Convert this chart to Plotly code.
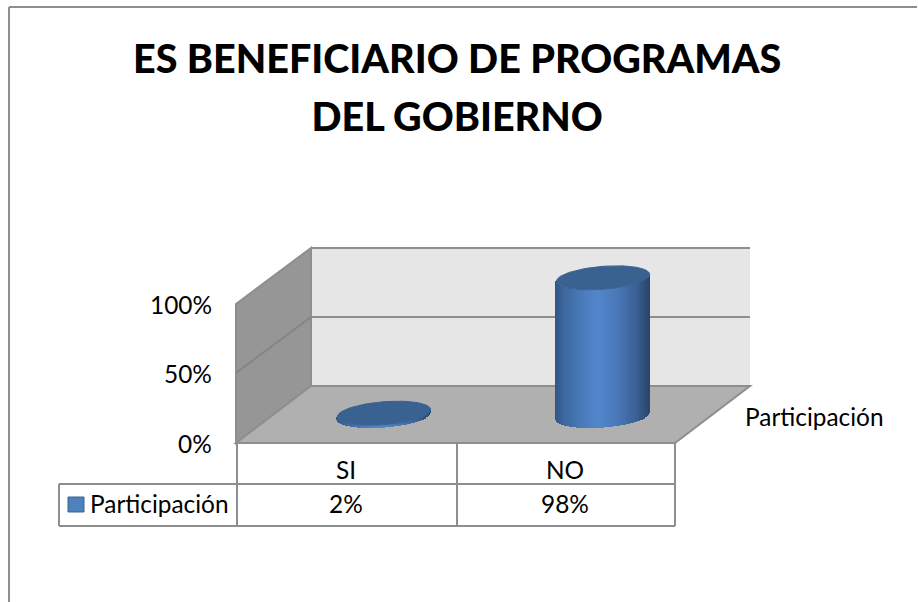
import numpy as np
import plotly.graph_objects as go

categories = ["SI", "NO"]
values = [0.02, 0.98]
series_name = "Participación"
tick_labels = ["0%", "50%", "100%"]
title_lines = ["ES BENEFICIARIO DE PROGRAMAS", "DEL GOBIERNO"]

W, H = 918, 602
FONT = "Lato"
LINE = "#8e8e8e"

# scales: category index -> px, value -> px
PX_PER_CAT = 219.0
X0_PX = 384.0
PX_PER_UNIT = 141.0
Y0_PX = 416.0
xr = [(0 - X0_PX) / PX_PER_CAT, (W - X0_PX) / PX_PER_CAT]
yr = [(Y0_PX - H) / PX_PER_UNIT, Y0_PX / PX_PER_UNIT]

A = 46.6 / PX_PER_CAT          # cylinder half width (category units)
B = 11.5 / PX_PER_UNIT         # ellipse half height (value units)
SHEAR = 3.5 / PX_PER_UNIT      # rise of the ellipse toward the right


def shade(u):
    stops = [0.0, 0.1, 0.25, 0.45, 0.7, 0.88, 1.0]
    r = [50, 62, 72, 82, 72, 58, 42]
    g = [86, 105, 120, 135, 118, 95, 70]
    b = [135, 160, 184, 205, 180, 148, 108]
    return "rgb(%d,%d,%d)" % (np.interp(u, stops, r), np.interp(u, stops, g), np.interp(u, stops, b))


def px(x, y):
    return x / W, 1 - y / H


def poly(points, fill, line_width=2):
    path = "M " + " L ".join("%.5f,%.5f" % px(*p) for p in points) + " Z"
    return dict(type="path", xref="paper", yref="paper", path=path, fillcolor=fill,
                line=dict(color=LINE, width=line_width), layer="below")


def seg(x0, y0, x1, y1, width=2, color=LINE):
    a, b = px(x0, y0), px(x1, y1)
    return dict(type="line", xref="paper", yref="paper", x0=a[0], y0=a[1], x1=b[0], y1=b[1],
                line=dict(color=color, width=width), layer="below")


fig = go.Figure()

n_strips = 95
for i, (cat, val) in enumerate(zip(categories, values)):
    t = np.linspace(-1, 1, n_strips)
    xs = i + t * A
    lower = t * SHEAR - B * np.sqrt(1 - t ** 2)
    fig.add_trace(go.Bar(
        x=xs, y=[val] * n_strips, base=lower, width=1.7 / PX_PER_CAT,
        marker=dict(color=[shade((v + 1) / 2) for v in t], line=dict(width=0)),
        name=series_name, showlegend=False, hoverinfo="skip",
    ))
    th = np.linspace(0, 2 * np.pi, 121)
    fig.add_trace(go.Scatter(
        x=i + A * np.cos(th), y=val + SHEAR * np.cos(th) + B * np.sin(th),
        mode="lines", fill="toself", fillcolor="#3a6291",
        line=dict(color="#3a6291", width=1), showlegend=False, hoverinfo="skip",
    ))

shapes = [
    seg(9, 7, 917, 7), seg(9, 7, 9, 602),
    poly([(311, 248), (750, 248), (750, 386), (311, 386)], "#e6e6e6", 0),
    seg(311, 248, 750, 248), seg(311, 317, 750, 317),
    poly([(236, 304), (311, 248), (311, 386), (236, 443)], "#969696"),
    poly([(236, 443), (311, 386), (750, 386), (675, 443)], "#b0b0b0"),
    seg(236, 373, 311, 317, color="#858585"),
    seg(237, 443, 237, 526), seg(457, 443, 457, 526), seg(675, 443, 675, 526),
    seg(59, 484, 675, 484), seg(59, 526, 675, 526), seg(59, 484, 59, 526),
    dict(type="rect", xref="paper", yref="paper",
         x0=68 / W, x1=84 / W, y0=1 - 512 / H, y1=1 - 497 / H,
         fillcolor="#4f81bd", line=dict(color="#3a6291", width=1), layer="above"),
]


def label(text, x, y, size=24.4, xanchor="center"):
    return dict(text=text, x=x / W, y=1 - y / H, xref="paper", yref="paper", showarrow=False,
                xanchor=xanchor, yanchor="middle", font=dict(family=FONT, size=size, color="#000000"))


annotations = [
    label(tick_labels[2], 214, 304.5, xanchor="right"),
    label(tick_labels[1], 214, 373.5, xanchor="right"),
    label(tick_labels[0], 214, 444, xanchor="right"),
    label(series_name, 743, 416.5, xanchor="left"),
    label(series_name, 88, 503.5, xanchor="left"),
]
for i, (cat, val) in enumerate(zip(categories, values)):
    cx = [346, 565][i]
    annotations.append(label(cat, cx, 469))
    annotations.append(label("%d%%" % round(val * 100), cx, 503.5))

title_text = "<br>".join('<span style="font-size:39.5px">%s</span>' % s for s in title_lines)

fig.update_layout(
    width=W, height=H, autosize=False, margin=dict(l=0, r=0, t=0, b=0),
    paper_bgcolor="#ffffff", plot_bgcolor="rgba(0,0,0,0)", barmode="overlay", bargap=0,
    showlegend=False,
    xaxis=dict(visible=False, range=xr, fixedrange=True),
    yaxis=dict(visible=False, range=yr, fixedrange=True),
    shapes=shapes, annotations=annotations,
    title=dict(text=title_text, x=0.498, xanchor="center", y=1 - 73 / H, yanchor="middle",
               font=dict(family=FONT, size=44.6, color="#000000", weight=900)),
)

fig.write_html("out.html", config={"displayModeBar": False},
               post_script="document.body.style.margin='0';window.dispatchEvent(new Event('resize'));")
